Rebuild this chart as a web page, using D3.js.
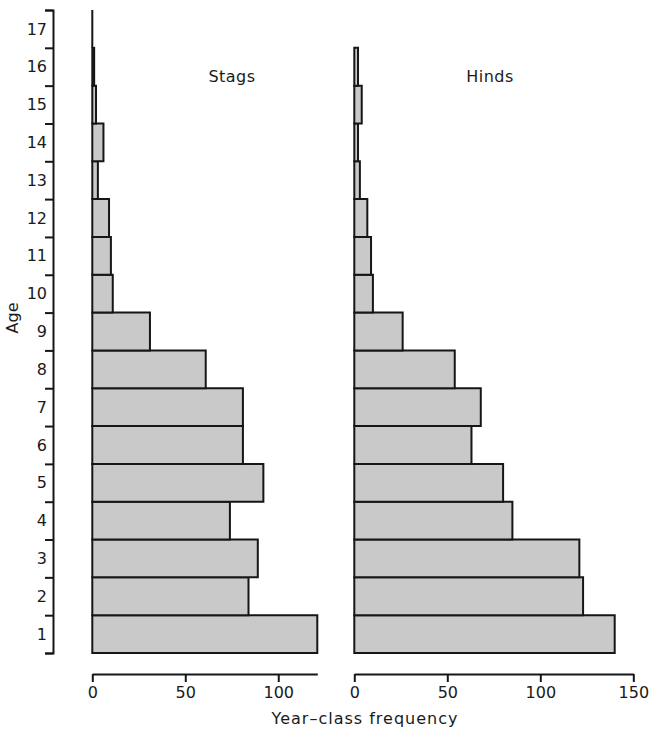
<!DOCTYPE html>
<html>
<head>
<meta charset="utf-8">
<script src="https://cdn.jsdelivr.net/npm/d3@7"></script>
<style>
  html, body { margin: 0; padding: 0; background: #fff; }
  svg { display: block; }
  text { font-family: "DejaVu Sans", sans-serif; fill: #1a1a1a; }
</style>
</head>
<body>
<svg id="chart" width="649" height="729"></svg>
<script>
// Age classes (years) and year-class frequencies for each sex
const ages = d3.range(1, 18);
const stags = [121, 84, 89, 74, 92, 81, 81, 61, 31, 11, 10, 9, 3, 6, 2, 1, 0];
const hinds = [140, 123, 121, 85, 80, 63, 68, 54, 26, 10, 9, 7, 3, 2, 4, 2, null];
const stagTicks = [0, 50, 100];
const hindTicks = [0, 50, 100, 150];
const panelTitles = ["Stags", "Hinds"];

const svg = d3.select("#chart");
const ink = "#161616";
const fill = "#c9c9c9";
const fontSize = 16;

// Vertical scale: one band per age, bands touching
const yLin = d3.scaleLinear().domain([0.5, 17.5]).range([653, 10]);

// Horizontal scales, same units-per-pixel in both panels
const xStag = d3.scaleLinear().domain([0, 121]).range([92.3, 317.3]);
const xHind = d3.scaleLinear().domain([0, 150]).range([354.3, 633.3]);

function barPath(x, age, v) {
  const y0 = yLin(age + 0.5), y1 = yLin(age - 0.5);
  const x0 = x(0), x1 = x(v);
  return `M${x0},${y0}H${x1}V${y1}H${x0}Z`;
}

function drawBars(values, x) {
  const data = ages.map((a, i) => ({ age: a, v: values[i] })).filter(d => d.v !== null);
  svg.append("g")
    .selectAll("path")
    .data(data)
    .join("path")
    .attr("d", d => barPath(x, d.age, d.v))
    .attr("fill", fill)
    .attr("stroke", ink)
    .attr("stroke-width", 2)
    .attr("stroke-linejoin", "miter");
}
drawBars(stags, xStag);
drawBars(hinds, xHind);

// Age axis: ticks at band edges, labels at band centres
const yEdges = svg.append("g")
  .attr("transform", "translate(53,0)")
  .call(d3.axisLeft(yLin).tickValues(d3.range(0.5, 18, 1)).tickSize(8).tickSizeOuter(8).tickFormat(""));
yEdges.selectAll("path, line").attr("stroke", ink).attr("stroke-width", 2);

const yLabels = svg.append("g")
  .attr("transform", "translate(53,0)")
  .call(d3.axisLeft(yLin).tickValues(ages).tickSize(0).tickPadding(6).tickFormat(d3.format("d")));
yLabels.select(".domain").remove();
yLabels.selectAll("text").attr("font-size", fontSize).attr("font-family", "DejaVu Sans, sans-serif").attr("fill", ink);

svg.append("text")
  .attr("transform", "translate(18,318) rotate(-90)")
  .attr("text-anchor", "middle")
  .attr("font-size", fontSize)
  .text("Age");

// Frequency axes
function drawXAxis(x, ticks) {
  const g = svg.append("g")
    .attr("transform", "translate(0,674)")
    .call(d3.axisBottom(x).tickValues(ticks).tickSize(8).tickSizeOuter(0).tickPadding(5).tickFormat(d3.format("d")));
  g.selectAll("path, line").attr("stroke", ink).attr("stroke-width", 2);
  g.selectAll("text").attr("font-size", fontSize).attr("font-family", "DejaVu Sans, sans-serif").attr("fill", ink);
}
drawXAxis(xStag, stagTicks);
drawXAxis(xHind, hindTicks);

svg.append("text")
  .attr("x", 365)
  .attr("y", 724)
  .attr("text-anchor", "middle")
  .attr("font-size", fontSize)
  .attr("letter-spacing", 1)
  .text("Year\u2013class frequency");

// Panel titles
svg.append("text").attr("x", 232).attr("y", 82).attr("text-anchor", "middle").attr("font-size", fontSize).attr("letter-spacing", 0.5).text(panelTitles[0]);
svg.append("text").attr("x", 490).attr("y", 82).attr("text-anchor", "middle").attr("font-size", fontSize).attr("letter-spacing", 0.5).text(panelTitles[1]);
</script>
</body>
</html>
